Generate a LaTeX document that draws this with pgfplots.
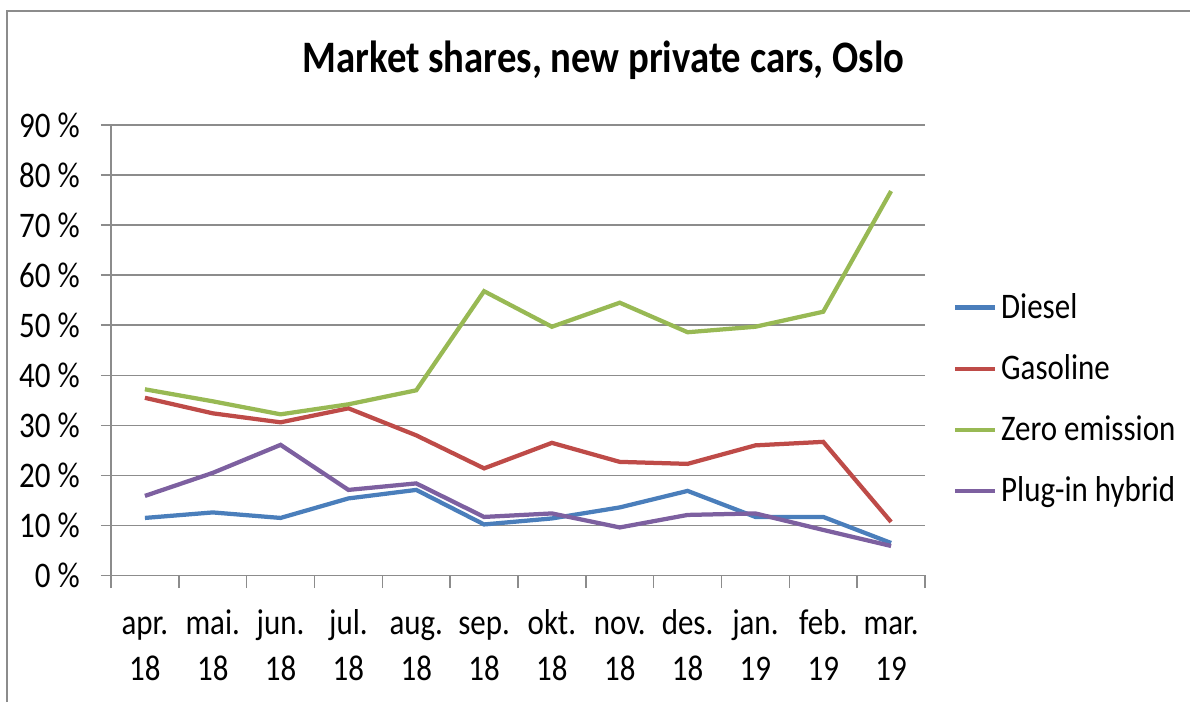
\documentclass[border=0pt]{standalone}
\usepackage{pgfplots}
\pgfplotsset{compat=1.18}
\usepackage{fontspec}
\setmainfont{Carlito}[FakeStretch=0.86]
\definecolor{cDiesel}{HTML}{4A7EBB}
\definecolor{cGas}{HTML}{BE4B48}
\definecolor{cZero}{HTML}{98B954}
\definecolor{cPlug}{HTML}{7D60A0}
\definecolor{gridc}{HTML}{8C8C8C}
\begin{document}
\begin{tikzpicture}
\path[use as bounding box] (0,0) rectangle (476pt,280.8pt);
\draw[gridc, line width=0.8pt] (2.8pt,0) -- (2.8pt,276.4pt) -- (476pt,276.4pt);
\node[font=\fontsize{18}{21}\selectfont\bfseries] at (241.5pt,256.8pt) {Market shares, new private cars, Oslo};
\begin{axis}[
  at={(44.4pt,50.6pt)}, anchor=south west,
  scale only axis, width=325.6pt, height=180.2pt,
  xmin=-0.5, xmax=11.5, ymin=0, ymax=90,
  axis lines*=left,
  axis line style={gridc, line width=0.6pt},
  ymajorgrids, grid style={gridc, line width=0.6pt},
  tick align=outside,
  major tick length=4pt, minor tick length=5pt,
  tick style={gridc, line width=0.6pt},
  xtick={0,...,11},
  minor xtick={-0.5,0.5,...,11.5},
  major x tick style={draw=none},
  xticklabels={{\strut apr.\\18},{\strut mai.\\18},{\strut jun.\\18},{\strut jul.\\18},{\strut aug.\\18},{\strut sep.\\18},{\strut okt.\\18},{\strut nov.\\18},{\strut des.\\18},{\strut jan.\\19},{\strut feb.\\19},{\strut mar.\\19}},
  xticklabel style={align=center, anchor=north, font=\fontsize{14.4}{18.6}\selectfont, yshift=-3pt},
  ytick={0,10,...,90},
  yticklabels={0 \%,10 \%,20 \%,30 \%,40 \%,50 \%,60 \%,70 \%,80 \%,90 \%},
  yticklabel style={font=\fontsize{14.4}{17.6}\selectfont, xshift=-5pt},
  legend style={draw=none, fill=none, at={(1.034,0.391)}, anchor=west, inner sep=0pt,
    font=\fontsize{14.4}{17.6}\selectfont, row sep=9pt,
    nodes={inner xsep=1.5pt}},
  legend cell align=left,
  legend image code/.code={\draw[#1] (0,0) -- (16pt,0);},
  every axis plot/.append style={line width=1.7pt},
]
\addplot[cDiesel] coordinates {(0,11.5)(1,12.6)(2,11.5)(3,15.4)(4,17.1)(5,10.2)(6,11.4)(7,13.6)(8,16.9)(9,11.7)(10,11.7)(11,6.5)};
\addlegendentry{Diesel}
\addplot[cGas] coordinates {(0,35.5)(1,32.4)(2,30.6)(3,33.4)(4,28.0)(5,21.4)(6,26.5)(7,22.7)(8,22.3)(9,26.0)(10,26.7)(11,10.7)};
\addlegendentry{Gasoline}
\addplot[cZero] coordinates {(0,37.2)(1,34.8)(2,32.2)(3,34.2)(4,37.0)(5,56.8)(6,49.7)(7,54.5)(8,48.6)(9,49.7)(10,52.7)(11,76.8)};
\addlegendentry{Zero emission}
\addplot[cPlug] coordinates {(0,15.9)(1,20.5)(2,26.1)(3,17.1)(4,18.4)(5,11.7)(6,12.4)(7,9.6)(8,12.1)(9,12.4)(10,9.1)(11,5.9)};
\addlegendentry{Plug-in hybrid}
\end{axis}
\end{tikzpicture}
\end{document}
